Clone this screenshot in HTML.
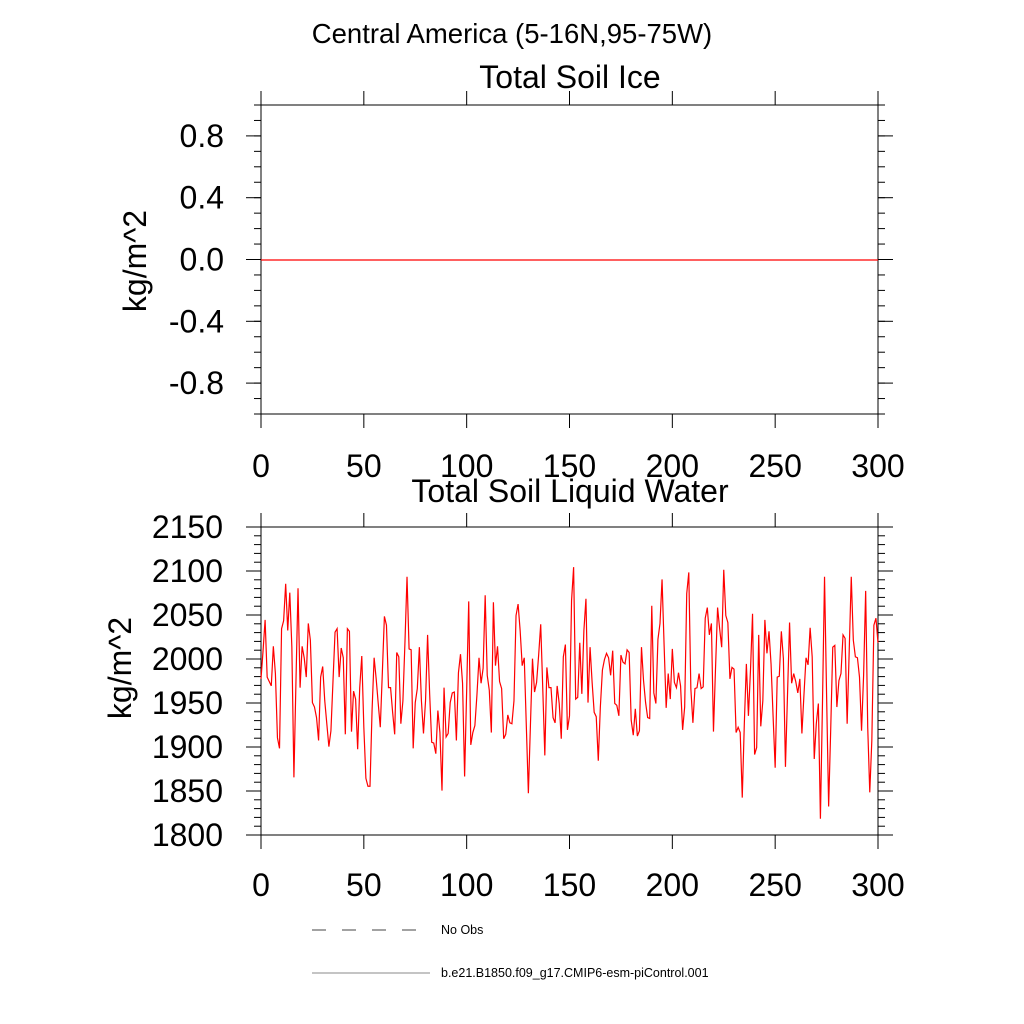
<!DOCTYPE html>
<html><head><meta charset="utf-8"><style>
body{margin:0;background:#fff}
svg{display:block;font-family:"Liberation Sans",sans-serif}
</style></head><body>
<svg id="c" width="1024" height="1024" viewBox="0 0 1024 1024">
<text x="512" y="43" font-size="27.5" text-anchor="middle">Central America (5-16N,95-75W)</text>
<text x="570" y="88" font-size="32" text-anchor="middle">Total Soil Ice</text>
<text x="570" y="502" font-size="32" text-anchor="middle">Total Soil Liquid Water</text>
<text transform="translate(146,261) rotate(-90)" font-size="32" text-anchor="middle">kg/m^2</text>
<text transform="translate(131,668) rotate(-90)" font-size="32" text-anchor="middle">kg/m^2</text>
<g>
<line x1="312" y1="930" x2="430" y2="930" stroke="#444" stroke-width="1" stroke-dasharray="14,16"/>
<text x="441" y="934" font-size="12.5">No Obs</text>
<line x1="312" y1="973" x2="430" y2="973" stroke="#888" stroke-width="1"/>
<text x="441" y="977" font-size="12.5">b.e21.B1850.f09_g17.CMIP6-esm-piControl.001</text>
</g>
</svg>
<script>
const xTicks=[0,50,100,150,200,250,300];
const iceTicks=[-0.8,-0.4,0.0,0.4,0.8];
const iceTickLabels=["-0.8","-0.4","0.0","0.4","0.8"];
const waterTicks=[1800,1850,1900,1950,2000,2050,2100,2150];
const iceValues=new Array(301).fill(0);
const waterValues=[1978,2010,2045,1980,1975,1970,2015,1984,1911,1899,2035,2044,2086,2033,2076,2014,1866,1975,2081,1968,2015,2002,1980,2041,2022,1951,1946,1934,1908,1980,1992,1953,1927,1901,1919,1975,2031,2035,1980,2013,2002,1915,2035,2032,1918,1964,1955,1898,1968,2004,1923,1865,1856,1856,1942,2002,1978,1950,1923,1985,2049,2039,1968,1968,1940,1915,2008,2003,1927,1953,2020,2094,2012,2011,1899,1951,1967,2014,1953,1916,1953,2028,1961,1906,1905,1893,1942,1917,1851,1968,1912,1916,1951,1962,1963,1908,1985,2006,1973,1867,1965,2066,1903,1917,1925,1960,2002,1973,1990,2073,1982,1965,1917,2065,1993,2015,1975,1967,1910,1915,1937,1928,1927,1953,2050,2063,2033,1993,2002,1925,1848,1925,2001,1963,1974,2005,2040,1967,1891,1991,1968,1968,1934,1928,1970,1950,1910,2003,2017,1920,1936,2067,2105,1955,1957,2019,1961,2033,2069,1951,2014,1974,1940,1935,1885,1946,1988,2000,2007,2002,1982,2010,1950,1948,1936,2005,1997,1995,2011,2008,1931,1914,1944,1913,1919,2014,1976,1951,1934,1933,2061,1962,1950,2023,2041,2091,2016,1945,1984,1955,2012,1974,1968,1985,1970,1920,1946,2075,2099,1967,1928,1967,1968,1984,1967,1969,2047,2059,2028,2041,1918,1990,2059,2035,2014,2102,2050,2042,1978,1991,1989,1917,1923,1917,1843,1927,1995,1936,1988,2052,1892,1900,2028,1924,1953,2045,2007,2032,1995,1935,1877,1980,1981,2032,2001,1878,1960,2042,1973,1984,1975,1962,1978,1916,1960,2002,1994,2036,2003,1887,1927,1950,1819,1950,2094,1960,1833,1920,2014,2016,1946,1976,1984,2028,2024,1927,2010,2094,2022,2003,2002,1980,1919,1982,2078,1923,1849,1908,2039,2047,2019];

const NS="http://www.w3.org/2000/svg";
const svg=document.getElementById('c');
function mk(tag,attrs,parent){const e=document.createElementNS(NS,tag);for(const k in attrs)e.setAttribute(k,attrs[k]);(parent||svg).appendChild(e);return e;}
const X0=261,X1=878;
function xs(v){return X0+(v-0)/(300-0)*(X1-X0);}

function panel(name,top,bottom,ymin,ymax,ticks,labels,minorStep,vals,xLabelY,labelRight){
  const g=mk('g',{});
  
  
  const ys=v=>bottom-(v-ymin)/(ymax-ymin)*(bottom-top);
  const n=Math.round((ymax-ymin)/minorStep);
  for(let i=0;i<=n;i++){const v=ymin+i*minorStep;const y=ys(v);
    mk('line',{x1:X0-7,x2:X0,y1:y,y2:y,stroke:'#000','stroke-width':1},g);
    mk('line',{x1:X1,x2:X1+7,y1:y,y2:y,stroke:'#000','stroke-width':1},g);}
  ticks.forEach((v,i)=>{const y=ys(v);
    mk('line',{x1:X0-15,x2:X0,y1:y,y2:y,stroke:'#000','stroke-width':1},g);
    mk('line',{x1:X1,x2:X1+15,y1:y,y2:y,stroke:'#000','stroke-width':1},g);
    const t=mk('text',{x:labelRight,y:y+11,'font-size':32,'text-anchor':'end'},g);
    t.textContent=labels[i];
    
    });
  xTicks.forEach(v=>{const x=xs(v);
    mk('line',{x1:x,x2:x,y1:bottom,y2:bottom+14,stroke:'#000','stroke-width':1},g);
    mk('line',{x1:x,x2:x,y1:top-14,y2:top,stroke:'#000','stroke-width':1},g);
    const t=mk('text',{x:x,y:xLabelY,'font-size':32,'text-anchor':'middle'},g);
    t.textContent=String(v);
    
    });
  const f=mk('rect',{x:X0,y:top,width:X1-X0,height:bottom-top,fill:'none',stroke:'#000','stroke-width':1},g);
  
  
  const pts=vals.map((v,i)=>xs(i).toFixed(2)+','+(ys(v)+0.5).toFixed(2)).join(' ');
  const pl=mk('polyline',{points:pts,fill:'none',stroke:'#ff0000','stroke-width':1.2},g);
  
  
}
panel('soil-ice',105,414,-1,1,iceTicks,iceTickLabels,0.1,iceValues,477,224);
panel('soil-water',527,835,1800,2150,waterTicks,waterTicks.map(String),10,waterValues,896,223);
</script>
</body></html>
